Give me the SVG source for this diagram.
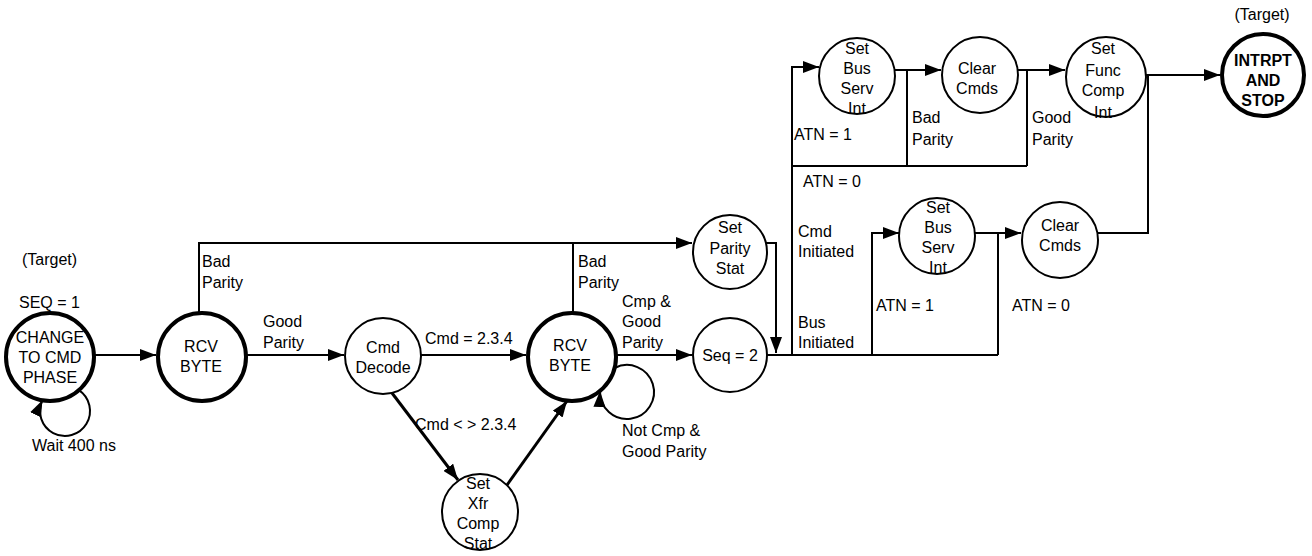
<svg xmlns="http://www.w3.org/2000/svg" width="1312" height="556" viewBox="0 0 1312 556">
<style>
text{font-family:"Liberation Sans",Arial,sans-serif;font-size:16px;fill:#000}
.c{text-anchor:middle}
.b{font-weight:bold}
.n{fill:#fff;stroke:#000;stroke-width:2}
.nb{fill:#fff;stroke:#000;stroke-width:4}
.l{fill:none;stroke:#000;stroke-width:2}
.lt{fill:none;stroke:#000;stroke-width:3}
</style>
<defs>
<marker id="a" markerUnits="userSpaceOnUse" markerWidth="16" markerHeight="12" refX="16" refY="6" orient="auto">
<path d="M0,0 L16,6 L0,12 z" fill="#000"/>
</marker>
</defs>
<g id="connectors">
<path class="l" d="M94 355 H156" marker-end="url(#a)"/>
<path class="l" d="M246 355 H344" marker-end="url(#a)"/>
<path class="l" d="M421 355 H526" marker-end="url(#a)"/>
<path class="l" d="M616 355 H692" marker-end="url(#a)"/>
<path class="l" d="M199 313 V243 H692" marker-end="url(#a)"/>
<path class="l" d="M573 313 V243"/>
<path class="l" d="M766 243 H776 V353" marker-end="url(#a)"/>
<path class="l" d="M767 355 H998"/>
<path class="l" d="M792 355 V67 H819" marker-end="url(#a)"/>
<path class="l" d="M872 355 V233 H899" marker-end="url(#a)"/>
<path class="l" d="M975 233 H1021" marker-end="url(#a)"/>
<path class="l" d="M998 355 V233"/>
<path class="l" d="M1098 233 H1148 V75"/>
<path class="l" d="M895 70 H941" marker-end="url(#a)"/>
<path class="l" d="M907 70 V166"/>
<path class="l" d="M1018 70 H1065" marker-end="url(#a)"/>
<path class="l" d="M1027 70 V166"/>
<path class="l" d="M792 166 H1027"/>
<path class="l" d="M1146 75 H1220" marker-end="url(#a)"/>
<path class="lt" d="M392 393 L458 480" marker-end="url(#a)"/>
<path class="lt" d="M507 485 L567 401" marker-end="url(#a)"/>
<path class="l" d="M614.6 368 A27 27 0 1 1 600 391" marker-end="url(#a)"/>
<path class="l" d="M78.9 390.2 A25 25 0 1 1 42.4 400.3" marker-end="url(#a)"/>
</g>
<g id="labels">
<text x="22" y="265">(Target)</text>
<text x="19" y="308">SEQ = 1</text>
<text x="32" y="451">Wait 400 ns</text>
<text x="202" y="267">Bad</text>
<text x="202" y="288">Parity</text>
<text x="263" y="327">Good</text>
<text x="263" y="348">Parity</text>
<text x="425" y="344">Cmd = 2.3.4</text>
<text x="415" y="430">Cmd &lt; &gt; 2.3.4</text>
<text x="578" y="267">Bad</text>
<text x="578" y="288">Parity</text>
<text x="622" y="307">Cmp &amp;</text>
<text x="622" y="327">Good</text>
<text x="622" y="348">Parity</text>
<text x="622" y="436">Not Cmp &amp;</text>
<text x="622" y="457">Good Parity</text>
<text x="794" y="140">ATN = 1</text>
<text x="912" y="123">Bad</text>
<text x="912" y="145">Parity</text>
<text x="1032" y="123">Good</text>
<text x="1032" y="145">Parity</text>
<text x="803" y="187">ATN = 0</text>
<text x="798" y="237">Cmd</text>
<text x="798" y="257">Initiated</text>
<text x="798" y="328">Bus</text>
<text x="798" y="348">Initiated</text>
<text x="876" y="311">ATN = 1</text>
<text x="1012" y="311">ATN = 0</text>
<text x="1262" y="20" class="c">(Target)</text>
</g>
<g id="n-change"><circle class="nb" cx="50" cy="357" r="44"/><text class="c" x="50" y="343">CHANGE</text><text class="c" x="50" y="363">TO CMD</text><text class="c" x="50" y="383">PHASE</text></g>
<g id="n-rcv1"><circle class="nb" cx="202" cy="357" r="44"/><text class="c" x="201" y="352">RCV</text><text class="c" x="201" y="372">BYTE</text></g>
<g id="n-decode"><circle class="n" cx="383" cy="356" r="38"/><text class="c" x="383" y="353">Cmd</text><text class="c" x="383" y="373">Decode</text></g>
<g id="n-rcv2"><circle class="nb" cx="572" cy="357" r="44"/><text class="c" x="570" y="351">RCV</text><text class="c" x="570" y="371">BYTE</text></g>
<g id="n-xfr"><circle class="n" cx="480" cy="512" r="38"/><text class="c" x="478" y="489">Set</text><text class="c" x="478" y="509">Xfr</text><text class="c" x="478" y="529">Comp</text><text class="c" x="478" y="549">Stat</text></g>
<g id="n-parity"><circle class="n" cx="730" cy="252" r="37"/><text class="c" x="730" y="233">Set</text><text class="c" x="730" y="254">Parity</text><text class="c" x="730" y="274">Stat</text></g>
<g id="n-seq2"><circle class="n" cx="730" cy="355" r="37"/><text class="c" x="730" y="361">Seq = 2</text></g>
<g id="n-busserv1"><circle class="n" cx="857" cy="76" r="38"/><text class="c" x="857" y="54">Set</text><text class="c" x="857" y="74">Bus</text><text class="c" x="857" y="94">Serv</text><text class="c" x="857" y="114">Int</text></g>
<g id="n-clear1"><circle class="n" cx="980" cy="75" r="38"/><text class="c" x="977" y="74">Clear</text><text class="c" x="977" y="94">Cmds</text></g>
<g id="n-func"><circle class="n" cx="1106" cy="77" r="40"/><text class="c" x="1103" y="54">Set</text><text class="c" x="1103" y="76">Func</text><text class="c" x="1103" y="96">Comp</text><text class="c" x="1103" y="118">Int</text></g>
<g id="n-intrpt"><circle class="nb" cx="1263" cy="75" r="41"/><text class="c b" x="1263" y="66">INTRPT</text><text class="c b" x="1263" y="86">AND</text><text class="c b" x="1263" y="106">STOP</text></g>
<g id="n-busserv2"><circle class="n" cx="937" cy="236" r="38"/><text class="c" x="938" y="213">Set</text><text class="c" x="938" y="233">Bus</text><text class="c" x="938" y="253">Serv</text><text class="c" x="938" y="273">Int</text></g>
<g id="n-clear2"><circle class="n" cx="1060" cy="240" r="38"/><text class="c" x="1060" y="231">Clear</text><text class="c" x="1060" y="251">Cmds</text></g>
</svg>
